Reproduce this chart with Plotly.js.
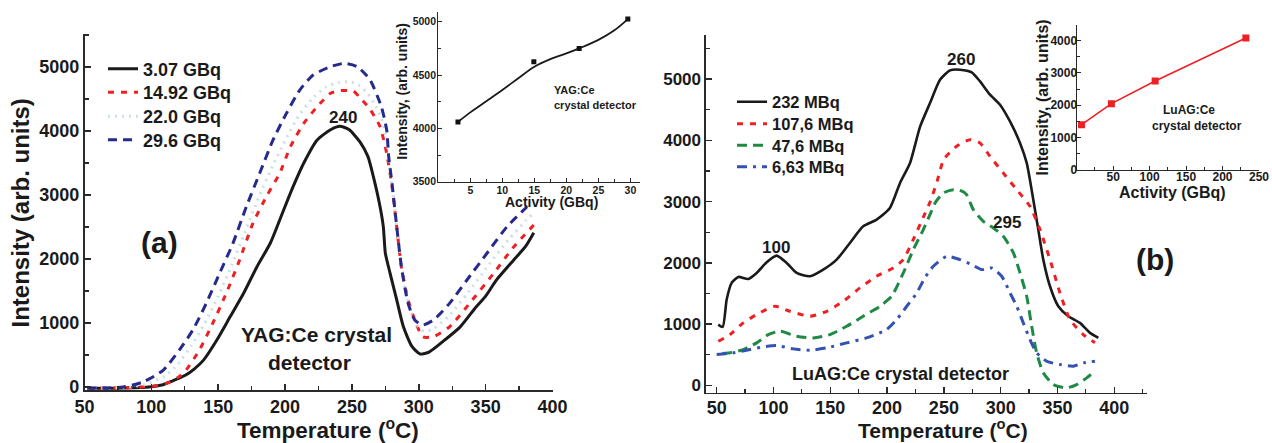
<!DOCTYPE html>
<html><head><meta charset="utf-8">
<script src="https://cdn.plot.ly/plotly-3.0.1.min.js"></script>
<style>html,body{margin:0;padding:0;background:#fff;}#chart{width:1272px;height:443px;}</style>
</head><body><div id="chart"></div>
<script>
// ---------- DATA ----------
// Panel (a) YAG:Ce, temperature (°C) vs intensity (arb. units)
const seriesA = ['3.07 GBq', '14.92 GBq', '22.0 GBq', '29.6 GBq'];
const tempA1 = [52,65,80,92,100,108,114,120,126,132,139,149,159,169,179,189,199,206,214,224,234,241,248,256,262,266,271,273.5,275,278.5,283.5,288.5,295,301,308,318,331,343,350,358,371,380,386];
const intA1  = [-20,-20,-15,-8,5,30,80,130,190,280,420,735,1100,1465,1880,2250,2770,3130,3500,3860,4020,4075,4020,3830,3600,3290,2820,2500,2090,1780,1360,940,630,515,550,710,940,1255,1420,1670,1985,2200,2410];
const tempA2 = [52,75,92,104,112,120,126,136,146,156,166,176,186,196,204,214,224,234,241,251,256,263,271,276,280,283.5,287,292,298,303,311,323,338,356,371,386];
const intA2  = [-20,-15,0,20,60,150,265,580,1000,1465,1985,2560,2975,3340,3755,4120,4380,4590,4630,4625,4520,4355,4070,3650,3130,2500,1880,1360,995,785,786,940,1307,1776,2190,2530];
const tempA3 = [52,80,95,110,120,130,140,150,160,170,180,190,200,210,220,230,240,248,255,262,268,272,276,279,283,287,291,296,301,305,311,323,337,352,367,380,386];
const intA3  = [-20,-8,40,170,360,650,1000,1420,1900,2420,2950,3420,3850,4230,4500,4680,4760,4770,4720,4580,4380,4200,3850,3300,2600,1950,1420,1080,900,870,910,1120,1480,1900,2300,2600,2720];
const tempA4 = [52,79,94,109,121,131,141,151,161,171,181,191,201,211,221,234,244,254,263.5,272,276,277.5,280,283.5,287,292,297,303,311,323,336,351,366,381];
const intA4  = [-20,0,80,265,580,890,1305,1775,2245,2815,3340,3860,4275,4640,4875,5005,5057,5005,4800,4380,4015,3600,3180,2505,1880,1307,1047,969,1047,1307,1672,2090,2505,2817];

// Panel (b) LuAG:Ce
const seriesB = ['232 MBq', '107,6 MBq', '47,6 MBq', '6,63 MBq'];
const tempB1 = [51.4,55.3,58.8,63.2,69,77.8,85.2,94,102.8,111.6,120.4,132.1,143.8,155.6,167.3,179,190.8,202.5,211.4,220.2,229,237.8,246.6,255.4,264.2,274.5,281.8,290.6,299.4,308.2,317,322.9,328.7,333.1,337.5,343.4,350.7,359.5,369.8,378.6,386];
const intB1  = [994,957,1402,1674,1772,1739,1837,2010,2119,2000,1837,1782,1891,2054,2326,2597,2706,2897,3305,3631,4220,4609,4989,5141,5152,5108,4962,4744,4581,4309,3957,3631,3032,2543,2054,1619,1293,1130,1022,859,778];
const tempB2 = [51.4,61.7,73.4,85.2,101.3,114.5,132.1,146.8,161.4,176.1,190.8,205.4,214.3,223,232,238,244,250,261,273,281.8,290.6,302.3,314.1,325.8,334.6,343.4,352.2,361,372.7,383];
const intB2  = [722,831,1022,1158,1293,1211,1130,1211,1374,1593,1782,1918,2054,2380,2750,3000,3330,3690,3900,4010,3956,3738,3467,3195,2923,2543,2054,1511,1076,831,696];
const tempB3 = [55,61.7,73.4,85.2,95.4,105.7,120.4,135,149.7,164.4,179,193.8,204,214.3,223.1,231.9,238,243,249.5,258.3,266,270,275.9,284.7,293.5,302.3,311.2,317,322.9,327.3,331.7,337.5,346.3,358.1,366.9,375.7,383];
const intB3  = [520,533,587,696,831,886,804,777,831,967,1130,1293,1456,1837,2217,2543,2800,3000,3141,3195,3170,3114,2869,2679,2570,2434,2163,1837,1456,967,533,207,16,-38,16,125,233];
const tempB4 = [50,64.6,79.3,91,102.8,117.4,132.1,146.8,164.4,182,199.6,208.5,217.3,226.1,233,240.7,252.5,264.2,274.5,283.3,292.1,300.9,308.2,314.1,319.9,325.8,331.7,340.5,352.2,363.9,372.7,383];
const intB4  = [505,533,587,630,652,598,576,614,696,777,913,1076,1293,1511,1750,1945,2108,2054,1973,1891,1918,1782,1511,1293,1022,750,533,396,342,315,370,396];

// Insets: peak intensity vs activity (measured points and drawn fit curve)
const activityYAG  = [3.07, 14.92, 22.0, 29.6];
const intensityYAG = [4060, 4625, 4750, 5025];
const fitActYAG = [3.07, 5, 7.5, 10, 12.5, 15, 17.5, 20, 22, 25, 27.5, 29.6];
const fitIntYAG = [4060, 4150, 4255, 4360, 4470, 4578, 4650, 4703, 4750, 4830, 4920, 5025];
const activityLuAG  = [6.63, 47.6, 107.6, 232];
const intensityLuAG = [1400, 2050, 2750, 4080];

// Tick labels
const tempTicks = [50,100,150,200,250,300,350,400];
const intTicks = [0,1000,2000,3000,4000,5000];
const yagActTicks = [5,10,15,20,25,30];
const yagIntTicks = [3500,4000,4500,5000];
const luagActTicks = [50,100,150,200,250];
const luagIntTicks = [0,1000,2000,3000,4000];

// ---------- LAYOUT HELPERS ----------
const W = 1272, H = 443;
const F = 'Liberation Sans, Arial, sans-serif';
const fx = p => p / W;
const fy = p => 1 - p / H;
const tf = s => ({family: F, size: s, color: '#1a1a1a', weight: 'bold'});

function curve(x, y, name, color, dash, width, legend, xa, ya) {
  return {x, y, name, type: 'scatter', mode: 'lines', xaxis: xa, yaxis: ya, legend,
    line: {color, dash, width, shape: 'spline', smoothing: 0.6}};
}

const traces = [
  curve(tempA1, intA1, seriesA[0], '#1a1a1a', 'solid', 3, 'legend', 'x', 'y'),
  curve(tempA2, intA2, seriesA[1], '#ee2024', '6px,7px', 3, 'legend2', 'x', 'y'),
  curve(tempA3, intA3, seriesA[2], '#c9e0e4', '2px,5px', 3, 'legend3', 'x', 'y'),
  curve(tempA4, intA4, seriesA[3], '#262a8c', '9px,6px', 3, 'legend4', 'x', 'y'),
  curve(tempB1, intB1, seriesB[0], '#1a1a1a', 'solid', 2.6, 'legend5', 'x2', 'y2'),
  curve(tempB2, intB2, seriesB[1], '#ee2024', '6px,7px', 3, 'legend6', 'x2', 'y2'),
  curve(tempB3, intB3, seriesB[2], '#1e8a44', '10px,6px', 3, 'legend7', 'x2', 'y2'),
  curve(tempB4, intB4, seriesB[3], '#3452b0', '10px,6px,3px,6px', 3, 'legend8', 'x2', 'y2'),
  {x: fitActYAG, y: fitIntYAG, type: 'scatter', mode: 'lines', xaxis: 'x3', yaxis: 'y3', showlegend: false,
    line: {color: '#1a1a1a', width: 1.8, shape: 'spline', smoothing: 1}},
  {x: activityYAG, y: intensityYAG, type: 'scatter', mode: 'markers', xaxis: 'x3', yaxis: 'y3', showlegend: false,
    marker: {symbol: 'square', size: 5, color: '#111'}},
  {x: activityLuAG, y: intensityLuAG, type: 'scatter', mode: 'lines+markers', xaxis: 'x4', yaxis: 'y4', showlegend: false,
    line: {color: '#ee2024', width: 1.6}, marker: {symbol: 'square', size: 7, color: '#ee2024'}}
];

function axis(o) {
  const a = {showgrid: false, zeroline: false, showline: true, linecolor: '#2a2a2a', linewidth: 1.6,
    ticks: 'inside', ticklen: 6, tickwidth: 1.5, tickcolor: '#2a2a2a', tickmode: 'array',
    tickfont: tf(18), fixedrange: true};
  return Object.assign(a, o);
}
const minorT = (d, len, w) => ({dtick: d, tick0: 0, ticks: 'inside', ticklen: len, tickcolor: '#2a2a2a', tickwidth: w});

const layout = {
  width: W, height: H, margin: {l: 0, r: 0, t: 0, b: 0},
  paper_bgcolor: '#fff', plot_bgcolor: 'rgba(0,0,0,0)', showlegend: true,
  xaxis: axis({domain: [fx(84.5), fx(552.5)], range: [50, 400], anchor: 'y', tickvals: tempTicks, minor: minorT(25, 4, 1.2)}),
  yaxis: axis({domain: [fy(390), fy(34)], range: [-47, 5516], anchor: 'x', tickvals: intTicks, minor: minorT(500, 4, 1.2)}),
  xaxis2: axis({domain: [fx(706), fx(1147)], range: [40.6, 428.8], anchor: 'y2', tickvals: tempTicks,
    ticklabelstandoff: -2, minor: minorT(25, 4, 1.2)}),
  yaxis2: axis({domain: [fy(392.7), fy(35)], range: [-117, 5718], anchor: 'x2', tickvals: intTicks,
    tickfont: tf(17), minor: minorT(500, 4, 1.2)}),
  xaxis3: axis({domain: [fx(438.3), fx(640)], range: [0, 31.5], anchor: 'y3', tickvals: yagActTicks,
    linewidth: 1.2, ticklen: 4, tickwidth: 1, tickfont: tf(10.5), ticklabelstandoff: -2, minor: minorT(2.5, 3, 1)}),
  yaxis3: axis({domain: [fy(181.7), fy(11.7)], range: [3500, 5094], anchor: 'x3', tickvals: yagIntTicks,
    linewidth: 1.2, ticklen: 4, tickwidth: 1, tickfont: tf(10.5), ticklabelstandoff: -1, minor: minorT(250, 3, 1)}),
  xaxis4: axis({domain: [fx(1076.7), fx(1259)], range: [0, 250], anchor: 'y4', tickvals: luagActTicks,
    linewidth: 1.2, ticklen: 4, tickwidth: 1, tickfont: tf(12), ticklabelstandoff: -5, minor: minorT(25, 3, 1)}),
  yaxis4: axis({domain: [fy(170), fy(25)], range: [0, 4480], anchor: 'x4', tickvals: luagIntTicks,
    linewidth: 1.2, ticklen: 4, tickwidth: 1, tickfont: tf(12), ticklabelstandoff: -4, minor: minorT(500, 3, 1)}),
  annotations: []
};

// one legend box per entry so that rows sit exactly where the reference has them
const legendRowsA = [50.5, 74, 98, 121.5];
const legendRowsB = [84.5, 106.5, 128, 149.5];
['legend', 'legend2', 'legend3', 'legend4'].forEach((k, i) => {
  layout[k] = {x: fx(103), y: fy(legendRowsA[i]), xanchor: 'left', yanchor: 'top', bgcolor: 'rgba(0,0,0,0)', font: tf(18)};
});
['legend5', 'legend6', 'legend7', 'legend8'].forEach((k, i) => {
  layout[k] = {x: fx(732), y: fy(legendRowsB[i]), xanchor: 'left', yanchor: 'top', bgcolor: 'rgba(0,0,0,0)', font: tf(16.5)};
});

function note(text, px, py, size, opts) {
  layout.annotations.push(Object.assign({text, xref: 'paper', yref: 'paper', x: fx(px), y: fy(py),
    xanchor: 'center', yanchor: 'middle', showarrow: false, font: tf(size)}, opts || {}));
}
// axis titles
note('Intensity (arb. units)', 20.5, 213, 24, {textangle: -90});
note('Temperature (<sup>o</sup>C)', 327.5, 428.5, 22.5);
note('Temperature (<sup>o</sup>C)', 943, 429, 21);
note('Intensity, (arb. units)', 401.7, 91, 14, {textangle: -90});
note('Activity (GBq)', 551.7, 202, 14);
note('Intensity, (arb. units)', 1042, 97.5, 16, {textangle: -90});
note('Activity (GBq)', 1172, 193, 16);
// panel labels
note('240', 343, 117, 17);
note('(a)', 159, 242, 30);
note('YAG:Ce crystal', 316, 334, 21);
note('detector', 309, 362, 21);
note('YAG:Ce', 551.7, 90, 11, {xanchor: 'left'});
note('crystal detector', 551.7, 105, 11, {xanchor: 'left'});
note('260', 961, 60, 17);
note('100', 776, 247, 17);
note('295', 1007, 223, 17);
note('(b)', 1155, 259, 30);
note('LuAG:Ce crystal detector', 900.5, 374, 18);
note('LuAG:Ce', 1189, 110, 12);
note('crystal detector', 1197, 126, 12);

Plotly.newPlot('chart', traces, layout, {staticPlot: true, displayModeBar: false});
</script>
</body></html>
